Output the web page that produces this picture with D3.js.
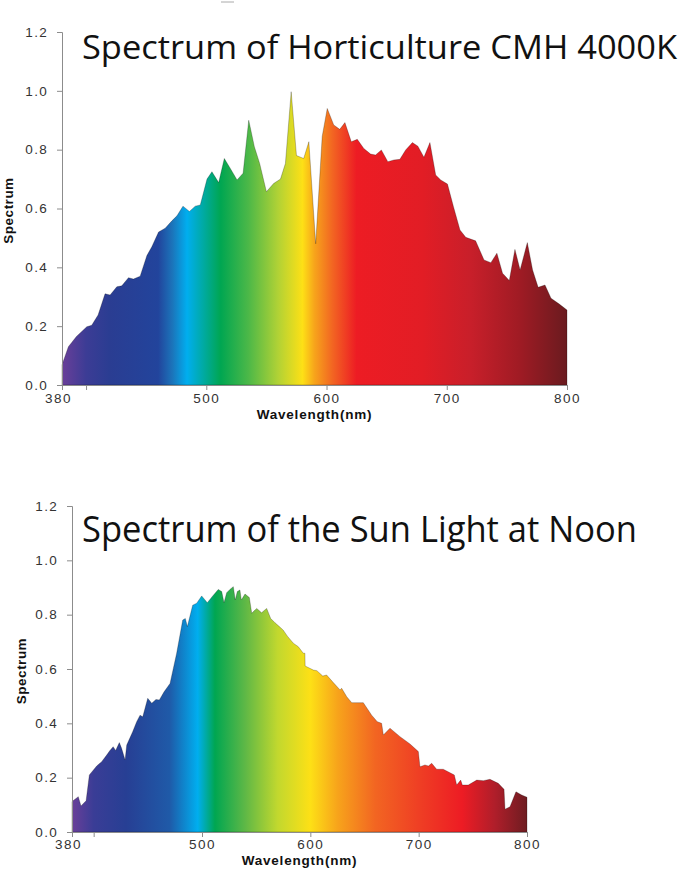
<!DOCTYPE html>
<html>
<head>
<meta charset="utf-8">
<script src="https://cdn.jsdelivr.net/npm/d3@7"></script>
<style>
  html, body { margin: 0; padding: 0; background: #fff; }
  svg { display: block; }
</style>
</head>
<body>
<script>
// ---------- DATA ----------
const cmhTitle = "Spectrum of Horticulture CMH 4000K";
const sunTitle = "Spectrum of the Sun Light at Noon";

const cmhWavelengths = [380, 385.3, 392, 400.6, 404.7, 410, 415.8, 420, 425.6, 429.7, 435.3, 439.4, 445, 450.6, 454.7, 460.3, 465.8, 471.4, 475.6, 480.6, 486, 490.8, 495, 500.6, 504.7, 510.3, 515, 520, 525.6, 530.6, 535.3, 540, 544.4, 550, 556, 561.7, 565.8, 570.6, 575, 581, 585.3, 591, 596.4, 600.6, 606, 611, 615.3, 620.6, 625.6, 631, 636.7, 640.8, 645.6, 651, 656, 661, 665.8, 671.4, 676, 681, 686, 690.8, 695, 700.6, 705.6, 711, 715.8, 724, 731, 736.7, 741.7, 746.4, 752, 756.7, 761, 767, 771.4, 776, 781.7, 786.7, 793.6, 800];
const cmhValues = [0.068, 0.13, 0.165, 0.198, 0.203, 0.238, 0.31, 0.306, 0.334, 0.337, 0.365, 0.36, 0.37, 0.44, 0.47, 0.52, 0.533, 0.558, 0.575, 0.608, 0.59, 0.608, 0.612, 0.70, 0.725, 0.688, 0.77, 0.736, 0.697, 0.72, 0.90, 0.81, 0.753, 0.657, 0.685, 0.70, 0.753, 0.997, 0.78, 0.77, 0.827, 0.48, 0.845, 0.94, 0.884, 0.869, 0.892, 0.827, 0.835, 0.804, 0.785, 0.782, 0.799, 0.759, 0.765, 0.767, 0.799, 0.824, 0.812, 0.774, 0.824, 0.714, 0.697, 0.683, 0.606, 0.527, 0.502, 0.49, 0.425, 0.416, 0.448, 0.38, 0.355, 0.461, 0.391, 0.484, 0.391, 0.332, 0.34, 0.295, 0.275, 0.255];

const sunWavelengths = [380, 385.8, 388.3, 393, 396, 402.8, 407.4, 412, 415, 418, 420.3, 423.7, 425.8, 429, 430.5, 436, 439.7, 442.8, 445.3, 449.9, 453.6, 457.5, 460.6, 465, 470.5, 476.6, 482.2, 484.6, 486.5, 491.4, 495.1, 499.7, 504.9, 509.9, 515, 518.2, 520.3, 522.8, 525.8, 528.9, 530.7, 532.6, 535, 536.3, 539.7, 543.7, 545.9, 550.5, 555, 559.7, 563.4, 567.4, 571.4, 575, 578.8, 584.3, 588.9, 593.5, 595, 595.2, 602.8, 606, 611.5, 615, 621.2, 627.4, 628.9, 633.6, 638.2, 648.9, 656.6, 661.8, 665.8, 667.4, 673.5, 682.8, 692, 699.7, 701.2, 705.8, 709, 712, 716.6, 722.7, 732.9, 735.1, 738.8, 740.3, 745.8, 753.6, 759.7, 765.8, 773.5, 778.8, 779.7, 784.3, 789.8, 795.1, 800];
const sunValues = [0.112, 0.13, 0.096, 0.115, 0.21, 0.243, 0.259, 0.283, 0.30, 0.314, 0.30, 0.329, 0.308, 0.265, 0.32, 0.369, 0.406, 0.43, 0.424, 0.492, 0.474, 0.488, 0.486, 0.516, 0.547, 0.658, 0.78, 0.786, 0.756, 0.835, 0.842, 0.869, 0.844, 0.869, 0.893, 0.885, 0.844, 0.881, 0.893, 0.903, 0.854, 0.885, 0.891, 0.854, 0.876, 0.863, 0.805, 0.823, 0.807, 0.823, 0.786, 0.77, 0.756, 0.743, 0.721, 0.695, 0.682, 0.658, 0.658, 0.611, 0.596, 0.594, 0.574, 0.578, 0.55, 0.523, 0.529, 0.498, 0.476, 0.476, 0.43, 0.406, 0.40, 0.357, 0.382, 0.351, 0.324, 0.296, 0.24, 0.247, 0.243, 0.253, 0.231, 0.231, 0.21, 0.173, 0.191, 0.173, 0.173, 0.191, 0.189, 0.194, 0.179, 0.157, 0.084, 0.093, 0.148, 0.136, 0.128];

const yTicks = [0, 0.2, 0.4, 0.6, 0.8, 1.0, 1.2];
const xTicks = [380, 400, 500, 600, 700, 800];
const xTickLabels = ["380", "", "500", "600", "700", "800"];

const cmhGradWl = [380, 400, 420, 460, 472, 484, 512, 535, 560, 580, 590, 605, 625, 680, 720, 760, 800];
const cmhGradColors = ["#6a3f99", "#3c3c95", "#2a3d92", "#22449c", "#1b75bb", "#00aeef", "#00a651", "#4cb848", "#b2d235", "#fde016", "#f7a41b", "#f26522", "#ed1c24", "#e21d25", "#c81f2a", "#a01b24", "#6a1b1f"];

const sunGradWl = [380, 400, 430, 470, 496, 512, 540, 570, 600, 625, 660, 700, 740, 770, 800];
const sunGradColors = ["#6a3f99", "#3a3d96", "#273f94", "#1f5aa8", "#00aeef", "#00a651", "#5fb846", "#c2d82e", "#fde016", "#f7a41b", "#f26522", "#ef3f24", "#ed1c24", "#b01e2a", "#6e1c21"];

// ---------- DRAW ----------
const W = 679, H = 869;
const svg = d3.select("body").append("svg").attr("width", W).attr("height", H);
const defs = svg.append("defs");
const axisFont = "Liberation Sans, Arial, sans-serif";

// small artifact dash at top
svg.append("line").attr("x1", 221).attr("x2", 234).attr("y1", 2).attr("y2", 2)
  .attr("stroke", "#aaa").attr("stroke-width", 1);

function drawChart(cfg) {
  const x = d3.scaleLinear().domain([380, 800]).range([cfg.left, cfg.right]);
  const y = d3.scaleLinear().domain([0, 1.2]).range([cfg.bottom, cfg.top]);
  const g = svg.append("g");

  const grad = defs.append("linearGradient").attr("id", cfg.id)
    .attr("gradientUnits", "userSpaceOnUse")
    .attr("x1", x(380)).attr("x2", x(800)).attr("y1", 0).attr("y2", 0);
  cfg.gradWl.forEach((wl, i) => {
    grad.append("stop").attr("offset", (wl - 380) / 420).attr("stop-color", cfg.gradColors[i]);
  });

  const pts = cfg.wl.map((w, i) => [w, cfg.vals[i]]);
  const area = d3.area().x(d => x(d[0])).y0(y(0)).y1(d => y(d[1]));
  g.append("path").datum(pts).attr("d", area)
    .attr("fill", `url(#${cfg.id})`)
    .attr("stroke", "rgba(0,0,0,0.3)").attr("stroke-width", 0.8).attr("stroke-linejoin", "round");

  // y axis
  const yAxis = d3.axisLeft(y).tickValues(yTicks).tickFormat(d3.format(".1f")).tickSizeOuter(0).tickSize(5).tickPadding(9);
  const ya = g.append("g").attr("transform", `translate(${cfg.left},0)`).call(yAxis);
  ya.select(".domain").attr("stroke", "#8c8c8c");
  ya.selectAll(".tick line").attr("stroke", "#8c8c8c");
  ya.selectAll("text").attr("fill", "#333").attr("font-family", axisFont)
    .attr("font-size", 13.5).attr("letter-spacing", 1.3);

  // x axis
  const xAxis = d3.axisBottom(x).tickValues(xTicks).tickFormat((d, i) => xTickLabels[i]).tickSizeOuter(0).tickSize(5).tickPadding(cfg.xPad);
  const xa = g.append("g").attr("transform", `translate(0,${cfg.bottom})`).call(xAxis);
  xa.select(".domain").attr("stroke", "#8c8c8c");
  xa.selectAll(".tick line").attr("stroke", "#8c8c8c");
  xa.selectAll("text").attr("fill", "#333").attr("font-family", axisFont)
    .attr("font-size", 13.5).attr("letter-spacing", 1.5);
  xa.selectAll(".tick").filter(d => d === 380).select("text").attr("dx", -4);

  // axis titles
  g.append("text").attr("x", (cfg.left + cfg.right) / 2).attr("y", cfg.bottom + cfg.xlabDy)
    .attr("text-anchor", "middle").attr("font-family", axisFont)
    .attr("font-weight", "bold").attr("font-size", 13.5).attr("letter-spacing", 0.8).attr("fill", "#111")
    .text("Wavelength(nm)");
  g.append("text").attr("transform", `translate(${cfg.ylabX},${(cfg.top + cfg.bottom) / 2 + 2}) rotate(-90)`)
    .attr("text-anchor", "middle").attr("font-family", axisFont)
    .attr("font-weight", "bold").attr("font-size", 13.5).attr("letter-spacing", 0.5).attr("fill", "#111")
    .text("Spectrum");

  // chart title
  g.append("text").attr("x", cfg.titleX).attr("y", cfg.titleY)
    .attr("font-family", "Open Sans, Noto Sans, sans-serif").attr("font-size", cfg.titleSize)
    .attr("fill", "#111").attr("textLength", cfg.titleLen).attr("lengthAdjust", "spacingAndGlyphs")
    .text(cfg.title);
}

drawChart({
  id: "gradCMH", left: 62, right: 567, top: 32, bottom: 385, ylabX: 13, xlabDy: 34, xPad: 3,
  wl: cmhWavelengths, vals: cmhValues, gradWl: cmhGradWl, gradColors: cmhGradColors,
  title: cmhTitle, titleX: 82, titleY: 59, titleSize: 32, titleLen: 595
});
drawChart({
  id: "gradSun", left: 72, right: 527, top: 506, bottom: 832, ylabX: 26, xlabDy: 33, xPad: 2,
  wl: sunWavelengths, vals: sunValues, gradWl: sunGradWl, gradColors: sunGradColors,
  title: sunTitle, titleX: 82, titleY: 542, titleSize: 36, titleLen: 555
});
</script>
</body>
</html>
